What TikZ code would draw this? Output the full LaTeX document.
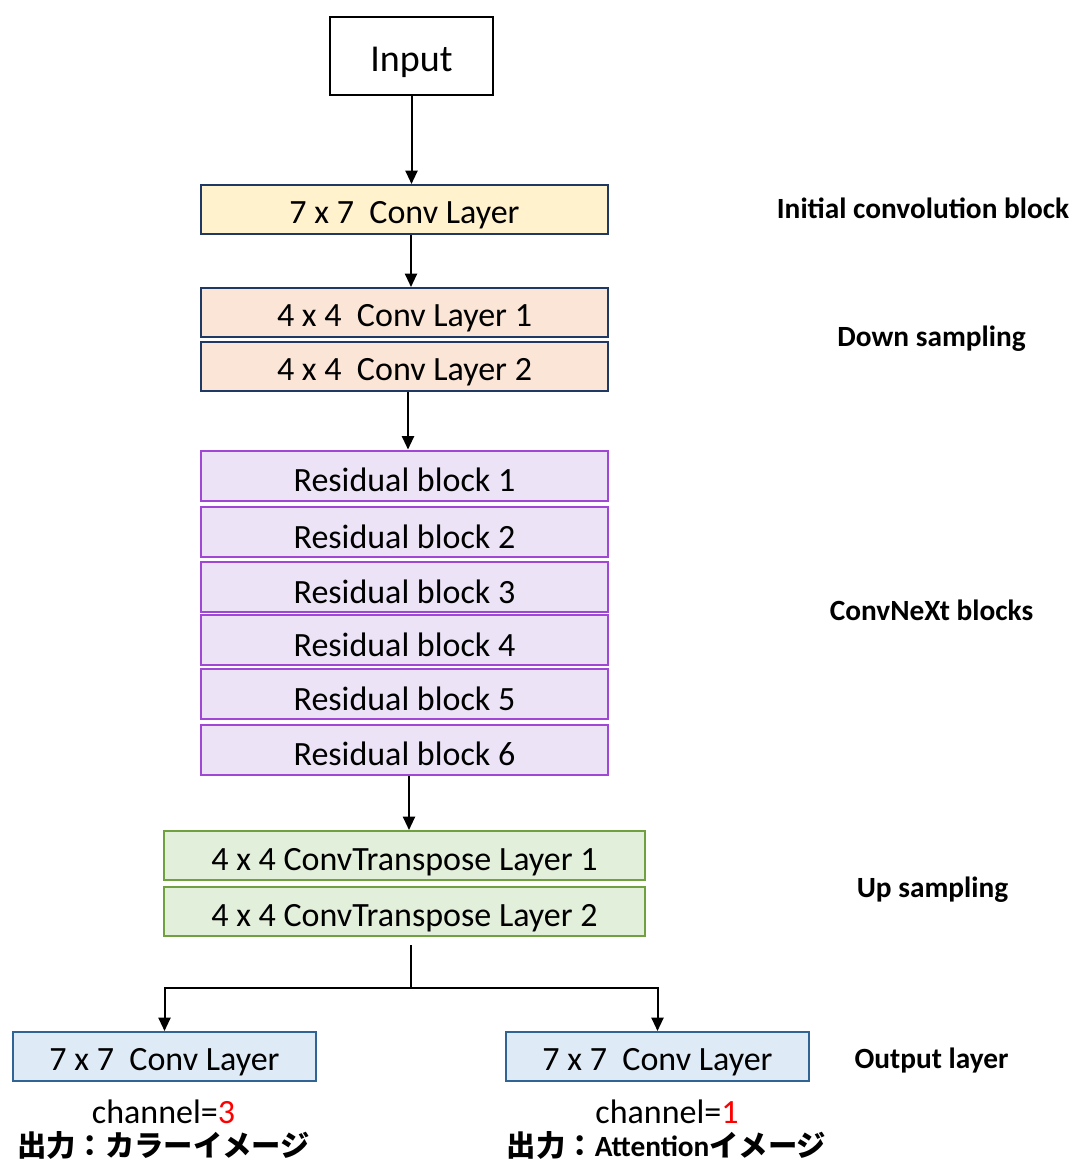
\documentclass[tikz,border=0pt]{standalone}
\usepackage{fontspec}
\setmainfont{Carlito}
\newfontfamily\jpfont{Noto Sans CJK JP}
\usetikzlibrary{arrows.meta,calc}

\definecolor{navyline}{HTML}{203864}
\definecolor{convfill}{HTML}{FFF2CC}
\definecolor{downfill}{HTML}{FBE5D6}
\definecolor{resfill}{HTML}{ECE4F6}
\definecolor{resline}{HTML}{A047D6}
\definecolor{upfill}{HTML}{E2EFDA}
\definecolor{upline}{HTML}{70A040}
\definecolor{outfill}{HTML}{DEEBF7}
\definecolor{outline}{HTML}{2F6494}

\tikzset{
  layer/.style={draw, rectangle, line width=1.5pt, inner sep=0pt,
    minimum height=36.75pt, text height=21pt, text depth=0pt,
    font=\fontsize{25.5}{30}\selectfont},
  widebox/.style={layer, minimum width=305.25pt},
  initbox/.style={widebox, fill=convfill, draw=navyline},
  downbox/.style={widebox, fill=downfill, draw=navyline},
  resbox/.style={widebox, fill=resfill, draw=resline, minimum height=37.5pt,
    text height=24pt},
  upbox/.style={layer, minimum width=360.75pt, fill=upfill, draw=upline,
    text height=23pt},
  outbox/.style={layer, minimum width=227.25pt, fill=outfill, draw=outline},
  stage/.style={anchor=base, inner sep=0pt,
    font=\bfseries\fontsize{22}{26}\selectfont},
  note/.style={anchor=base, inner sep=0pt,
    font=\fontsize{25.5}{30}\selectfont},
  jpnote/.style={anchor=base, inner sep=0pt,
    font=\fontsize{22}{26}\selectfont},
  link/.style={line width=1.5pt},
  arr/.style={link, -{Triangle[width=9pt,length=10pt]}}
}

\begin{document}
\begin{tikzpicture}[x=0.75pt,y=-0.75pt]
\useasboundingbox (0,0) rectangle (1075,1163);

% main column
\node[draw=black, line width=1.4pt, fill=white, inner sep=0pt,
      minimum width=122.25pt, minimum height=58.5pt,
      text height=23pt, text depth=0pt,
      font=\fontsize{28.5}{33}\selectfont] (in) at (411.5,56) {Input};

\node[initbox] (c7) at (404.5,209.5) {7 x 7~ Conv Layer};

\node[downbox] (d1) at (404.5,312.5) {4 x 4~ Conv Layer 1};
\node[downbox] (d2) at (404.5,366.5) {4 x 4~ Conv Layer 2};

\node[resbox] (r1) at (404.5,475.5) {Residual block 1};
\node[resbox] (r2) at (404.5,532)   {Residual block 2};
\node[resbox] (r3) at (404.5,587)   {Residual block 3};
\node[resbox] (r4) at (404.5,640)   {Residual block 4};
\node[resbox] (r5) at (404.5,694)   {Residual block 5};
\node[resbox] (r6) at (404.5,749.5) {Residual block 6};

\node[upbox] (u1) at (404.5,855.5) {4 x 4 ConvTranspose Layer 1};
\node[upbox] (u2) at (404.5,911.5) {4 x 4 ConvTranspose Layer 2};

% two output heads
\node[outbox] (o1) at (164.5,1056.5) {7 x 7~ Conv Layer};
\node[outbox] (o2) at (657.5,1056.5) {7 x 7~ Conv Layer};

\node[note] (ch1) at (163.5,1123) {channel=\textcolor{red}{3}};
\node[note] (ch2) at (667,1123) {channel=\textcolor{red}{1}};
\node[jpnote] (jp1) at (163.5,1156) {\jpfont\bfseries 出力：カラーイメージ};
\node[jpnote] (jp2) at (666.5,1156)
  {\jpfont\bfseries 出力：{\rmfamily\bfseries Attention}イメージ};

% stage labels
\node[stage] (s1) at (923,218.5)  {Initial convolution block};
\node[stage] (s2) at (931.5,346.5) {Down sampling};
\node[stage] (s3) at (931.5,620.5) {ConvNeXt blocks};
\node[stage] (s4) at (932.5,897.5) {Up sampling};
\node[stage] (s5) at (931.5,1068.5) {Output layer};

% connectors
\draw[arr] (in.south) -- (in.south |- c7.north);
\draw[arr] ($(c7.south)+(6.5,0)$) -- ($(d1.north)+(6.5,0)$);
\draw[arr] ($(d2.south)+(3.5,0)$) -- ($(r1.north)+(3.5,0)$);
\draw[arr] ($(r6.south)+(4.5,0)$) -- ($(u1.north)+(4.5,0)$);

\coordinate (split) at (411,988);
\draw[link] ($(split |- u2.south)+(0,8)$) -- (split);
\draw[arr] (split) -| (o1.north);
\draw[arr] (split) -| (o2.north);
\end{tikzpicture}
\end{document}
